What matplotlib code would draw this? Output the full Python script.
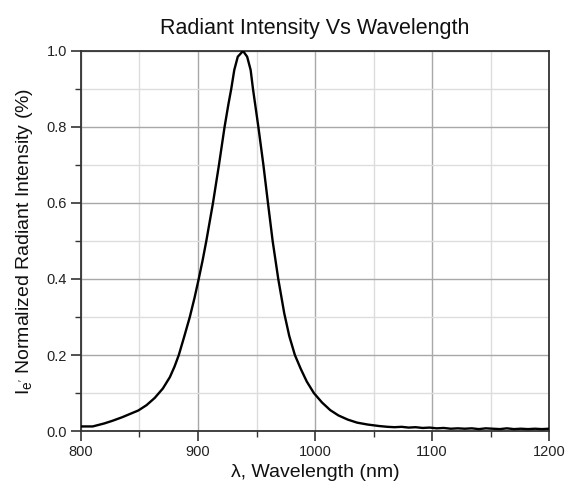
import matplotlib
matplotlib.use("Agg")
import matplotlib.pyplot as plt
from matplotlib.ticker import MultipleLocator, FormatStrFormatter

plt.rcParams['font.family'] = ['Liberation Sans', 'DejaVu Sans']
plt.rcParams['mathtext.fontset'] = 'custom'
plt.rcParams['mathtext.rm'] = 'Liberation Sans'
plt.rcParams['mathtext.it'] = 'Liberation Sans'

title = "Radiant Intensity Vs Wavelength"
xlabel = "λ, Wavelength (nm)"
ylabel = r"I$_{\mathregular{e'}}$ Normalized Radiant Intensity (%)"

wavelength = [800, 805, 810, 815, 820, 827, 835, 842, 849, 856, 863, 870, 876,
              880, 883.6, 888, 893, 897, 900.6, 904, 907.1, 912.8, 917.9, 922.7,
              926, 928.4, 931, 934, 938.5, 942, 945, 947, 951.6, 955.9, 959.8,
              963.8, 968.6, 973.7, 978, 982.8, 987.9, 993, 999, 1006, 1013,
              1020, 1028, 1036, 1045, 1055, 1062, 1068, 1074, 1080, 1086, 1092,
              1098, 1104, 1110, 1116, 1122, 1128, 1134, 1140, 1146, 1152, 1158,
              1164, 1170, 1176, 1182, 1188, 1194, 1200]
intensity = [0.012, 0.012, 0.012, 0.016, 0.020, 0.027, 0.036, 0.045, 0.054,
             0.068, 0.087, 0.112, 0.142, 0.170, 0.200, 0.246, 0.300, 0.350,
             0.400, 0.450, 0.500, 0.600, 0.700, 0.800, 0.860, 0.900, 0.950,
             0.985, 1.000, 0.985, 0.950, 0.900, 0.800, 0.700, 0.600, 0.500,
             0.400, 0.310, 0.250, 0.200, 0.163, 0.130, 0.100, 0.075, 0.055,
             0.041, 0.030, 0.022, 0.017, 0.013, 0.011, 0.010, 0.011, 0.009,
             0.010, 0.008, 0.009, 0.007, 0.008, 0.006, 0.007, 0.006, 0.007,
             0.005, 0.007, 0.006, 0.005, 0.007, 0.005, 0.006, 0.005, 0.006,
             0.005, 0.006]

fig = plt.figure(figsize=(5.75, 4.86), dpi=100)
ax = fig.add_axes([81/575, 1-431/486, (549-81)/575, (431-51)/486])

ax.plot(wavelength, intensity, color='black', lw=1.7, zorder=3,
        solid_joinstyle='round')

ax.set_xlim(800, 1200)
ax.set_ylim(0, 1.0)
ax.xaxis.set_major_locator(MultipleLocator(100))
ax.xaxis.set_minor_locator(MultipleLocator(50))
ax.yaxis.set_major_locator(MultipleLocator(0.2))
ax.yaxis.set_minor_locator(MultipleLocator(0.1))
ax.yaxis.set_major_formatter(FormatStrFormatter('%.1f'))

ax.grid(True, which='major', color='#a8a8a8', lw=1.0, zorder=0)
ax.grid(True, which='minor', color='#dddddd', lw=1.0, zorder=0)
ax.set_axisbelow(True)

ax.tick_params(which='major', direction='out', length=7, width=1.2,
               labelsize=10.5, pad=3, color='#333333', labelcolor='#222222')
ax.tick_params(which='minor', direction='out', length=4, width=1.0, color='#333333')
for s in ax.spines.values():
    s.set_linewidth(1.3)
    s.set_color('#333333')

ax.set_title(title, fontsize=15.5, pad=12, color='#111111')
ax.set_xlabel(xlabel, fontsize=14, labelpad=4, color='#111111')
ax.set_ylabel(ylabel, fontsize=14, labelpad=8, color='#111111')

fig.savefig("out.png", dpi=100)
